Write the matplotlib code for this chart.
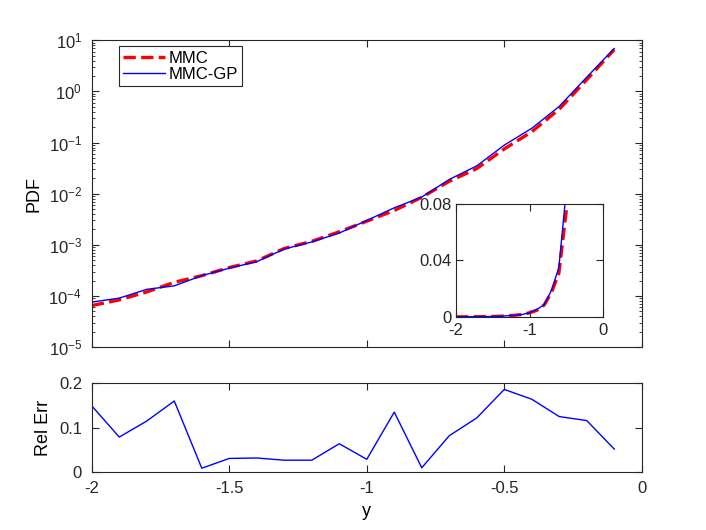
import numpy as np
import matplotlib
matplotlib.use("Agg")
import matplotlib.pyplot as plt
from matplotlib.ticker import LogLocator, NullFormatter

plt.rcParams['font.family'] = ['Liberation Sans', 'DejaVu Sans']
plt.rcParams['mathtext.fontset'] = 'custom'
plt.rcParams['mathtext.rm'] = 'Liberation Sans'
plt.rcParams['mathtext.it'] = 'Liberation Sans'

# sample points
y_vals = [-2.0, -1.9, -1.8, -1.7, -1.6, -1.5, -1.4, -1.3, -1.2, -1.1,
          -1.0, -0.9, -0.8, -0.7, -0.6, -0.5, -0.4, -0.3, -0.2, -0.1]

# PDF estimates
pdf_mmc = [6.5e-5, 8.4e-5, 1.2e-4, 1.85e-4, 2.5e-4, 3.6e-4, 4.85e-4, 8.5e-4, 1.17e-3, 1.8e-3,
           2.9e-3, 4.7e-3, 8.5e-3, 1.75e-2, 3.1e-2, 7.5e-2, 0.163, 0.45, 1.7, 6.6]
pdf_gp = [7.6e-5, 9.1e-5, 1.35e-4, 1.58e-4, 2.5e-4, 3.5e-4, 4.7e-4, 8.3e-4, 1.14e-3, 1.7e-3,
          3.0e-3, 5.3e-3, 8.6e-3, 1.9e-2, 3.5e-2, 8.9e-2, 0.19, 0.51, 1.9, 6.9]

# relative error
rel_err = [0.149, 0.079, 0.115, 0.160, 0.009, 0.031, 0.032, 0.027, 0.027, 0.064,
           0.029, 0.135, 0.010, 0.082, 0.122, 0.186, 0.164, 0.125, 0.116, 0.052]

axcol = (0.15, 0.15, 0.15)
fs = 12

def matlab_style(ax, xpad=6, ypad=7):
    for s in ax.spines.values():
        s.set_color(axcol)
        s.set_linewidth(0.8)
    ax.tick_params(which='both', direction='in', top=True, right=True,
                   colors=axcol, labelcolor=(0.15, 0.15, 0.15), labelsize=fs)
    ax.tick_params(which='major', length=5)
    ax.tick_params(which='minor', length=2.5)
    ax.tick_params(axis='x', pad=xpad)
    ax.tick_params(axis='y', pad=ypad)

fig = plt.figure(figsize=(7.06, 5.30), dpi=100)

# main panel
ax1 = fig.add_axes([0.130, 0.345, 0.779, 0.579])
ax1.semilogy(y_vals, pdf_mmc, '--', color='red', lw=2.4, label='MMC')
ax1.semilogy(y_vals, pdf_gp, '-', color='blue', lw=1.0, label='MMC-GP')
ax1.set_xlim(-2, 0)
ax1.set_ylim(1e-5, 1e1)
ax1.set_xticks([-2, -1.5, -1, -0.5, 0])
ax1.tick_params(axis='x', labelbottom=False)
ax1.yaxis.set_major_locator(LogLocator(base=10, numticks=10))
ax1.yaxis.set_minor_locator(LogLocator(base=10, subs=np.arange(2, 10), numticks=100))
ax1.yaxis.set_minor_formatter(NullFormatter())
ax1.set_ylabel('PDF', fontsize=13, labelpad=4)
matlab_style(ax1)
leg = ax1.legend(loc='upper left', bbox_to_anchor=(0.049, 0.98), fontsize=fs,
                 fancybox=False, edgecolor=axcol, framealpha=1,
                 handlelength=2.5, borderpad=0.25, labelspacing=0.1,
                 handletextpad=0.25, borderaxespad=0)
leg.get_frame().set_linewidth(0.8)

# inset
ax3 = fig.add_axes([0.646, 0.402, 0.208, 0.213])
ax3.plot(y_vals, pdf_mmc, '--', color='red', lw=2.4)
ax3.plot(y_vals, pdf_gp, '-', color='blue', lw=1.0)
ax3.set_xlim(-2, 0)
ax3.set_ylim(0, 0.08)
ax3.set_xticks([-2, -1, 0])
ax3.set_xticklabels(['-2', '-1', '0'])
ax3.set_yticks([0, 0.04, 0.08])
ax3.set_yticklabels(['0', '0.04', '0.08'])
matlab_style(ax3, xpad=4.5, ypad=3)

# relative error panel
ax2 = fig.add_axes([0.130, 0.109, 0.779, 0.168])
ax2.plot(y_vals, rel_err, '-', color='blue', lw=1.0)
ax2.set_xlim(-2, 0)
ax2.set_ylim(0, 0.2)
ax2.set_xticks([-2, -1.5, -1, -0.5, 0])
ax2.set_xticklabels(['-2', '-1.5', '-1', '-0.5', '0'])
ax2.set_yticks([0, 0.1, 0.2])
ax2.set_yticklabels(['0', '0.1', '0.2'])
ax2.set_xlabel('y', fontsize=13, labelpad=5)
ax2.set_ylabel('Rel Err', fontsize=13, labelpad=5)
matlab_style(ax2)

fig.savefig('out.png', dpi=100)
